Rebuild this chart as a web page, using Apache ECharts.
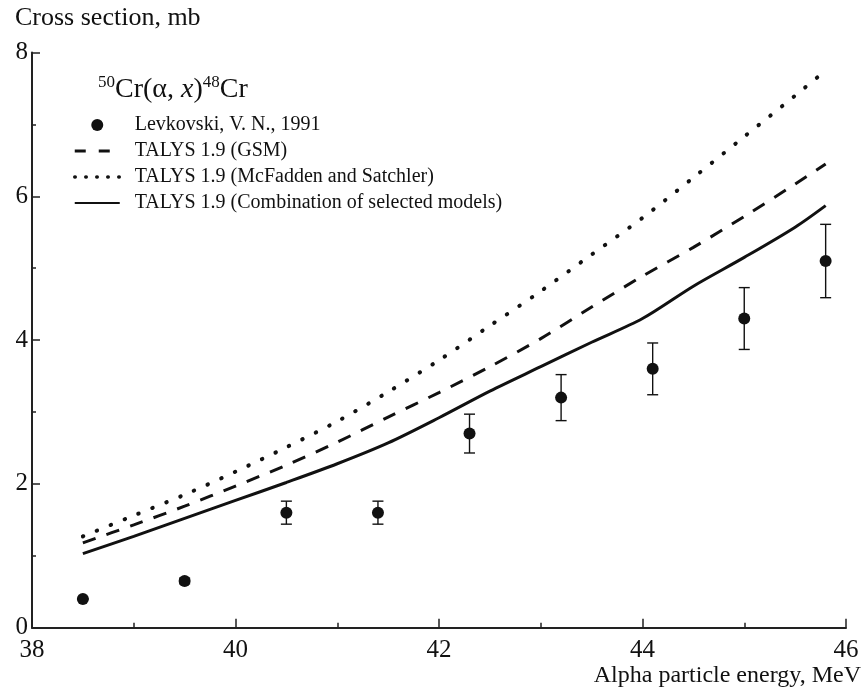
<!DOCTYPE html>
<html>
<head>
<meta charset="utf-8">
<script src="https://cdn.jsdelivr.net/npm/echarts@6/dist/echarts.min.js"></script>
<style>
html,body{margin:0;padding:0;background:#fff;}
#chart{width:864px;height:689px;}
</style>
</head>
<body>
<div id="chart"></div>
<script>
// ---- data ----
const xTicks = [38, 40, 42, 44, 46];
const yTicks = [0, 2, 4, 6, 8];

const expEnergy = [38.5, 39.5, 40.5, 41.4, 42.3, 43.2, 44.1, 45.0, 45.8];
const expValue  = [0.40, 0.65, 1.60, 1.60, 2.70, 3.20, 3.60, 4.30, 5.10];
const expError  = [0.00, 0.04, 0.16, 0.16, 0.27, 0.32, 0.36, 0.43, 0.51];

const calcEnergy = [38.5, 39, 39.5, 40, 40.5, 41, 41.5, 42, 42.5, 43, 43.5, 44, 44.5, 45, 45.5, 45.8];
const talysGSM   = [1.18, 1.43, 1.69, 1.97, 2.26, 2.58, 2.93, 3.27, 3.63, 4.02, 4.46, 4.89, 5.29, 5.72, 6.17, 6.45];
const talysMcF   = [1.27, 1.56, 1.85, 2.17, 2.51, 2.87, 3.28, 3.72, 4.20, 4.68, 5.19, 5.70, 6.26, 6.83, 7.40, 7.75];
const talysComb  = [1.03, 1.27, 1.52, 1.77, 2.02, 2.28, 2.57, 2.92, 3.29, 3.63, 3.97, 4.30, 4.75, 5.15, 5.57, 5.87];

const seriesNames = [
  'Levkovski, V. N., 1991',
  'TALYS 1.9 (GSM)',
  'TALYS 1.9 (McFadden and Satchler)',
  'TALYS 1.9 (Combination of selected models)'
];

// ---- chart ----
const FONT = '"Liberation Serif", "DejaVu Serif", serif';
const INK = '#111111';
const pairs = (xs, ys) => xs.map((x, i) => [x, ys[i]]);
const noSymbol = {color: 'rgba(0,0,0,0)', borderWidth: 0, opacity: 0};

const chart = echarts.init(document.getElementById('chart'), null, {renderer: 'canvas'});
chart.setOption({
  animation: false,
  backgroundColor: '#fff',
  title: [
    {
      text: 'Cross section, mb',
      left: 10, top: 0,
      textStyle: {fontFamily: FONT, fontSize: 26, fontWeight: 'normal', color: INK}
    },
    {
      text: '{s|50}{n|Cr(α, }{i|x}{n|)}{s|48}{n|Cr}',
      left: 93, top: 69,
      textStyle: {
        fontFamily: FONT, color: INK, fontWeight: 'normal',
        rich: {
          n: {fontFamily: FONT, fontSize: 28, color: INK, lineHeight: 32},
          i: {fontFamily: FONT, fontSize: 28, color: INK, fontStyle: 'italic', lineHeight: 32},
          s: {fontFamily: FONT, fontSize: 17, color: INK, verticalAlign: 'top', lineHeight: 32}
        }
      }
    }
  ],
  legend: {
    data: [
      {name: seriesNames[0]},
      {name: seriesNames[1], itemStyle: noSymbol, lineStyle: {type: [11, 13], width: 3}},
      {name: seriesNames[2], itemStyle: noSymbol, lineStyle: {type: [0.5, 10.5], width: 3.5, cap: 'round'}},
      {name: seriesNames[3], itemStyle: noSymbol}
    ],
    orient: 'vertical',
    left: 68, top: 110,
    itemWidth: 45, itemHeight: 12, itemGap: 6,
    textStyle: {fontFamily: FONT, fontSize: 20, color: INK, padding: [0, 0, 0, 10], lineHeight: 20}
  },
  grid: {left: 32, right: 17.5, top: 52.5, bottom: 61.3, containLabel: false},
  xAxis: {
    type: 'value', min: xTicks[0], max: xTicks[xTicks.length - 1], interval: 2,
    name: 'Alpha particle energy, MeV',
    nameLocation: 'end', nameGap: 15,
    nameTextStyle: {fontFamily: FONT, fontSize: 24, color: INK, align: 'right', verticalAlign: 'top', padding: [36, 0, 0, 0]},
    axisLine: {lineStyle: {color: '#222', width: 2}},
    axisTick: {inside: true, length: 9, lineStyle: {color: '#222', width: 1.5}},
    minorTick: {show: true, splitNumber: 2, length: 5, lineStyle: {color: '#222', width: 1.5}},
    splitLine: {show: false},
    axisLabel: {fontFamily: FONT, fontSize: 25, color: INK, margin: 10}
  },
  yAxis: {
    type: 'value', min: yTicks[0], max: yTicks[yTicks.length - 1], interval: 2,
    axisLine: {show: true, lineStyle: {color: '#222', width: 2}},
    axisTick: {show: true, inside: true, length: 8, lineStyle: {color: '#222', width: 1.5}},
    minorTick: {show: true, splitNumber: 2, length: 4, lineStyle: {color: '#222', width: 1.5}},
    splitLine: {show: false},
    axisLabel: {fontFamily: FONT, fontSize: 25, color: INK, margin: 4}
  },
  series: [
    {
      name: seriesNames[1], type: 'line', smooth: 0.3, showSymbol: false,
      data: pairs(calcEnergy, talysGSM),
      lineStyle: {color: INK, width: 3, type: [13.5, 11.5]},
      itemStyle: {color: INK}, z: 2
    },
    {
      name: seriesNames[2], type: 'line', smooth: 0.3, showSymbol: false,
      data: pairs(calcEnergy, talysMcF),
      lineStyle: {color: INK, width: 4, type: [0.5, 14.5], cap: 'round'},
      itemStyle: {color: INK}, z: 2
    },
    {
      name: seriesNames[3], type: 'line', smooth: 0.3, showSymbol: false,
      data: pairs(calcEnergy, talysComb),
      lineStyle: {color: INK, width: 3, type: 'solid'},
      itemStyle: {color: INK}, z: 2
    },
    {
      name: 'errors', type: 'custom', z: 3,
      data: expEnergy.map((e, i) => [e, expValue[i] - expError[i], expValue[i] + expError[i]]),
      renderItem: function (params, api) {
        const x = api.value(0);
        const top = api.coord([x, api.value(2)]);
        const bot = api.coord([x, api.value(1)]);
        const hw = 5.5;
        const st = {stroke: INK, lineWidth: 1.4};
        return {
          type: 'group',
          children: [
            {type: 'line', shape: {x1: top[0], y1: top[1], x2: bot[0], y2: bot[1]}, style: st},
            {type: 'line', shape: {x1: top[0] - hw, y1: top[1], x2: top[0] + hw, y2: top[1]}, style: st},
            {type: 'line', shape: {x1: bot[0] - hw, y1: bot[1], x2: bot[0] + hw, y2: bot[1]}, style: st}
          ]
        };
      }
    },
    {
      name: seriesNames[0], type: 'scatter', symbol: 'circle', symbolSize: 12, z: 4,
      data: pairs(expEnergy, expValue),
      itemStyle: {color: INK, opacity: 1}
    }
  ]
});
</script>
</body>
</html>
